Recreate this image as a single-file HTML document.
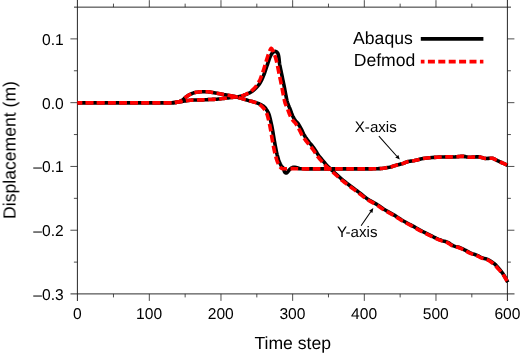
<!DOCTYPE html>
<html><head><meta charset="utf-8"><title>Displacement vs time step</title>
<style>
html,body{margin:0;padding:0;background:#fff;}
body{width:520px;height:358px;overflow:hidden;font-family:"Liberation Sans",sans-serif;}
svg{display:block;}
svg text{font-family:"Liberation Sans",sans-serif;fill:#000;will-change:transform;text-rendering:geometricPrecision;}
</style></head>
<body>
<svg width="520" height="358" viewBox="0 0 520 358">
<rect x="0" y="0" width="520" height="358" fill="#ffffff"/>
<g stroke="#1a1a1a" fill="none" stroke-linecap="butt">
<line x1="77.4" y1="0" x2="77.4" y2="301" stroke-width="0.95"/>
<line x1="507.4" y1="0" x2="507.4" y2="301" stroke-width="0.95"/>
<line x1="74" y1="7.15" x2="511" y2="7.15" stroke-width="0.95" stroke="#222"/>
<line x1="70.5" y1="293.9" x2="514.5" y2="293.9" stroke-width="0.95" stroke="#222"/>
</g>
<g stroke="#222" fill="none" stroke-linecap="butt" stroke-width="0.8">
<line x1="113.48" y1="293.9" x2="113.48" y2="297.4"/>
<line x1="113.48" y1="7.15" x2="113.48" y2="3.6500000000000004"/>
<line x1="149.32" y1="293.9" x2="149.32" y2="300.9"/>
<line x1="149.32" y1="7.15" x2="149.32" y2="0.15000000000000036"/>
<line x1="185.15" y1="293.9" x2="185.15" y2="297.4"/>
<line x1="185.15" y1="7.15" x2="185.15" y2="3.6500000000000004"/>
<line x1="220.98" y1="293.9" x2="220.98" y2="300.9"/>
<line x1="220.98" y1="7.15" x2="220.98" y2="0.15000000000000036"/>
<line x1="256.82" y1="293.9" x2="256.82" y2="297.4"/>
<line x1="256.82" y1="7.15" x2="256.82" y2="3.6500000000000004"/>
<line x1="292.65" y1="293.9" x2="292.65" y2="300.9"/>
<line x1="292.65" y1="7.15" x2="292.65" y2="0.15000000000000036"/>
<line x1="328.48" y1="293.9" x2="328.48" y2="297.4"/>
<line x1="328.48" y1="7.15" x2="328.48" y2="3.6500000000000004"/>
<line x1="364.32" y1="293.9" x2="364.32" y2="300.9"/>
<line x1="364.32" y1="7.15" x2="364.32" y2="0.15000000000000036"/>
<line x1="400.15" y1="293.9" x2="400.15" y2="297.4"/>
<line x1="400.15" y1="7.15" x2="400.15" y2="3.6500000000000004"/>
<line x1="435.98" y1="293.9" x2="435.98" y2="300.9"/>
<line x1="435.98" y1="7.15" x2="435.98" y2="0.15000000000000036"/>
<line x1="471.82" y1="293.9" x2="471.82" y2="297.4"/>
<line x1="471.82" y1="7.15" x2="471.82" y2="3.6500000000000004"/>
<line x1="77.4" y1="262.11" x2="73.9" y2="262.11"/>
<line x1="507.4" y1="262.11" x2="510.9" y2="262.11"/>
<line x1="77.4" y1="230.22" x2="70.4" y2="230.22"/>
<line x1="507.4" y1="230.22" x2="514.4" y2="230.22"/>
<line x1="77.4" y1="198.33" x2="73.9" y2="198.33"/>
<line x1="507.4" y1="198.33" x2="510.9" y2="198.33"/>
<line x1="77.4" y1="166.44" x2="70.4" y2="166.44"/>
<line x1="507.4" y1="166.44" x2="514.4" y2="166.44"/>
<line x1="77.4" y1="134.56" x2="73.9" y2="134.56"/>
<line x1="507.4" y1="134.56" x2="510.9" y2="134.56"/>
<line x1="77.4" y1="102.67" x2="70.4" y2="102.67"/>
<line x1="507.4" y1="102.67" x2="514.4" y2="102.67"/>
<line x1="77.4" y1="70.78" x2="73.9" y2="70.78"/>
<line x1="507.4" y1="70.78" x2="510.9" y2="70.78"/>
<line x1="77.4" y1="38.89" x2="70.4" y2="38.89"/>
<line x1="507.4" y1="38.89" x2="514.4" y2="38.89"/>
</g>
<g fill="none" stroke-linejoin="round" stroke-linecap="butt">
<path d="M77.50,102.70 L83.32,102.70 L91.56,102.70 L101.14,102.70 L110.98,102.70 L120.00,102.70 L128.64,102.70 L137.62,102.70 L146.28,102.70 L153.96,102.70 L160.00,102.70 L164.00,102.70 L166.39,102.71 L167.79,102.71 L168.79,102.71 L170.00,102.70 L171.36,102.68 L172.47,102.67 L173.42,102.64 L174.29,102.59 L175.20,102.50 L176.13,102.38 L177.02,102.24 L177.88,102.07 L178.71,101.86 L179.50,101.60 L180.25,101.28 L180.96,100.92 L181.65,100.52 L182.32,100.08 L183.00,99.60 L183.68,99.07 L184.36,98.47 L185.04,97.85 L185.72,97.25 L186.40,96.70 L187.08,96.21 L187.75,95.75 L188.44,95.31 L189.15,94.90 L189.90,94.50 L190.69,94.12 L191.52,93.75 L192.38,93.40 L193.27,93.08 L194.20,92.80 L195.18,92.56 L196.22,92.35 L197.28,92.17 L198.35,92.02 L199.40,91.90 L200.44,91.81 L201.48,91.75 L202.52,91.71 L203.56,91.70 L204.60,91.70 L205.61,91.71 L206.59,91.74 L207.58,91.79 L208.64,91.87 L209.80,92.00 L211.10,92.18 L212.51,92.41 L213.98,92.66 L215.46,92.93 L216.90,93.20 L218.29,93.47 L219.67,93.76 L221.04,94.05 L222.42,94.34 L223.80,94.60 L225.20,94.83 L226.60,95.04 L228.00,95.24 L229.40,95.45 L230.80,95.70 L232.19,95.98 L233.57,96.28 L234.94,96.60 L236.32,96.94 L237.70,97.30 L239.11,97.70 L240.54,98.13 L241.96,98.58 L243.33,99.01 L244.60,99.40 L245.77,99.75 L246.86,100.07 L247.89,100.36 L248.86,100.64 L249.80,100.90 L250.68,101.13 L251.51,101.33 L252.29,101.51 L253.05,101.70 L253.81,101.90 L254.56,102.12 L255.28,102.35 L255.99,102.58 L256.70,102.83 L257.40,103.10 L258.11,103.39 L258.82,103.69 L259.52,104.01 L260.22,104.35 L260.89,104.70 L261.57,105.06 L262.24,105.42 L262.89,105.81 L263.51,106.23 L264.10,106.70 L264.64,107.22 L265.13,107.79 L265.60,108.40 L266.05,109.04 L266.50,109.70 L266.95,110.37 L267.39,111.06 L267.82,111.79 L268.22,112.56 L268.60,113.40 L268.94,114.31 L269.25,115.29 L269.54,116.32 L269.82,117.39 L270.10,118.50 L270.39,119.64 L270.67,120.81 L270.94,122.02 L271.22,123.28 L271.50,124.60 L271.78,125.98 L272.06,127.41 L272.34,128.90 L272.62,130.43 L272.90,132.00 L273.17,133.59 L273.43,135.20 L273.69,136.87 L273.98,138.62 L274.30,140.50 L274.68,142.62 L275.12,144.96 L275.57,147.34 L276.01,149.58 L276.40,151.50 L276.74,153.04 L277.04,154.33 L277.33,155.45 L277.61,156.48 L277.90,157.50 L278.19,158.50 L278.48,159.43 L278.76,160.31 L279.07,161.16 L279.40,162.00 L279.77,162.86 L280.16,163.72 L280.58,164.55 L280.99,165.32 L281.40,166.00 L281.82,166.55 L282.25,167.00 L282.67,167.40 L283.06,167.81 L283.40,168.30 L283.66,168.91 L283.86,169.60 L284.03,170.31 L284.20,170.96 L284.40,171.50 L284.62,171.92 L284.86,172.27 L285.10,172.54 L285.34,172.75 L285.60,172.90 L285.87,172.99 L286.14,173.01 L286.42,172.97 L286.71,172.87 L287.00,172.70 L287.29,172.45 L287.58,172.10 L287.87,171.71 L288.18,171.30 L288.50,170.90 L288.82,170.51 L289.14,170.10 L289.48,169.68 L289.86,169.28 L290.30,168.90 L290.82,168.52 L291.42,168.14 L292.05,167.78 L292.69,167.49 L293.30,167.30 L293.88,167.23 L294.44,167.24 L295.01,167.33 L295.59,167.46 L296.20,167.60 L296.90,167.78 L297.67,168.03 L298.43,168.29 L299.10,168.53 L299.60,168.70 L299.56,168.78 L299.04,168.81 L298.57,168.81 L298.71,168.80 L300.00,168.80 L302.75,168.82 L306.59,168.84 L311.06,168.87 L315.69,168.89 L320.00,168.90 L324.00,168.91 L328.00,168.91 L332.00,168.90 L336.00,168.90 L340.00,168.90 L344.10,168.90 L348.31,168.90 L352.47,168.91 L356.42,168.91 L360.00,168.90 L363.23,168.89 L366.20,168.87 L368.92,168.85 L371.35,168.83 L373.50,168.80 L375.29,168.77 L376.72,168.74 L377.92,168.70 L378.97,168.65 L380.00,168.60 L380.92,168.55 L381.66,168.49 L382.35,168.43 L383.09,168.33 L384.00,168.20 L385.13,168.02 L386.39,167.81 L387.73,167.57 L389.09,167.30 L390.40,167.00 L391.66,166.66 L392.92,166.28 L394.18,165.88 L395.44,165.48 L396.70,165.10 L398.02,164.74 L399.38,164.40 L400.72,164.06 L401.98,163.72 L403.10,163.40 L404.04,163.07 L404.84,162.75 L405.56,162.43 L406.23,162.15 L406.90,161.90 L407.55,161.71 L408.16,161.55 L408.74,161.43 L409.35,161.31 L410.00,161.20 L410.71,161.10 L411.45,161.01 L412.22,160.93 L413.00,160.83 L413.80,160.70 L414.60,160.54 L415.41,160.35 L416.24,160.14 L417.10,159.92 L418.00,159.70 L418.86,159.47 L419.67,159.23 L420.56,158.98 L421.66,158.74 L423.10,158.50 L424.99,158.26 L427.23,158.02 L429.69,157.79 L432.19,157.58 L434.60,157.40 L436.95,157.25 L439.35,157.13 L441.73,157.04 L444.03,156.96 L446.20,156.90 L448.23,156.88 L450.16,156.89 L452.00,156.92 L453.75,156.93 L455.40,156.90 L456.93,156.79 L458.33,156.63 L459.65,156.46 L460.96,156.33 L462.30,156.30 L463.64,156.40 L464.94,156.61 L466.27,156.85 L467.67,157.07 L469.20,157.20 L470.94,157.19 L472.86,157.08 L474.84,156.95 L476.76,156.86 L478.50,156.90 L480.03,157.11 L481.43,157.45 L482.76,157.83 L484.06,158.17 L485.40,158.40 L486.82,158.45 L488.27,158.37 L489.71,158.26 L491.07,158.20 L492.30,158.30 L493.37,158.58 L494.31,158.98 L495.17,159.45 L496.02,159.94 L496.90,160.40 L497.80,160.81 L498.67,161.21 L499.55,161.61 L500.48,162.04 L501.50,162.50 L502.72,163.06 L504.12,163.70 L505.53,164.35 L506.75,164.91 L507.60,165.30" stroke="#000" stroke-width="3.6"/>
<path d="M77.50,102.70 L83.32,102.70 L91.56,102.70 L101.14,102.70 L110.98,102.70 L120.00,102.70 L128.61,102.70 L137.52,102.70 L146.14,102.70 L153.83,102.70 L160.00,102.70 L164.26,102.71 L167.03,102.74 L168.87,102.76 L170.34,102.76 L172.00,102.70 L173.81,102.58 L175.39,102.40 L176.82,102.20 L178.16,101.99 L179.50,101.80 L180.82,101.62 L182.08,101.43 L183.29,101.25 L184.46,101.07 L185.60,100.90 L186.70,100.74 L187.74,100.58 L188.76,100.43 L189.77,100.30 L190.80,100.20 L191.79,100.13 L192.72,100.08 L193.68,100.06 L194.74,100.03 L196.00,100.00 L197.55,99.96 L199.35,99.92 L201.23,99.89 L203.03,99.85 L204.60,99.80 L205.86,99.75 L206.92,99.69 L207.89,99.62 L208.88,99.56 L210.00,99.50 L211.28,99.45 L212.65,99.40 L214.07,99.36 L215.50,99.29 L216.90,99.20 L218.28,99.07 L219.66,98.92 L221.03,98.75 L222.41,98.57 L223.80,98.40 L225.20,98.22 L226.60,98.04 L228.00,97.86 L229.40,97.68 L230.80,97.50 L232.21,97.34 L233.63,97.20 L235.04,97.05 L236.41,96.89 L237.70,96.70 L238.90,96.48 L240.04,96.24 L241.13,95.98 L242.18,95.70 L243.21,95.40 L244.22,95.08 L245.21,94.73 L246.16,94.37 L247.08,93.99 L247.97,93.60 L248.80,93.22 L249.58,92.83 L250.33,92.43 L251.08,92.00 L251.84,91.50 L252.63,90.94 L253.42,90.32 L254.21,89.67 L254.98,88.99 L255.71,88.30 L256.41,87.60 L257.07,86.89 L257.71,86.15 L258.32,85.39 L258.92,84.60 L259.49,83.79 L260.02,82.95 L260.54,82.09 L261.05,81.17 L261.55,80.20 L262.06,79.15 L262.55,78.03 L263.04,76.86 L263.52,75.68 L263.98,74.50 L264.42,73.32 L264.85,72.12 L265.26,70.91 L265.67,69.70 L266.08,68.50 L266.50,67.28 L266.91,66.05 L267.32,64.83 L267.72,63.64 L268.10,62.50 L268.46,61.41 L268.80,60.36 L269.13,59.34 L269.46,58.39 L269.80,57.50 L270.15,56.68 L270.51,55.92 L270.88,55.22 L271.24,54.58 L271.60,54.00 L271.96,53.48 L272.32,53.02 L272.67,52.63 L273.03,52.29 L273.40,52.00 L273.78,51.77 L274.17,51.59 L274.56,51.47 L274.94,51.41 L275.30,51.40 L275.65,51.45 L275.98,51.57 L276.30,51.74 L276.61,51.95 L276.90,52.20 L277.17,52.48 L277.43,52.79 L277.68,53.15 L277.90,53.55 L278.10,54.00 L278.28,54.52 L278.43,55.09 L278.57,55.71 L278.69,56.35 L278.80,57.00 L278.90,57.66 L278.98,58.34 L279.05,59.04 L279.12,59.76 L279.20,60.50 L279.28,61.21 L279.34,61.88 L279.42,62.60 L279.53,63.45 L279.70,64.50 L279.95,65.82 L280.26,67.35 L280.61,69.00 L280.96,70.69 L281.30,72.30 L281.62,73.86 L281.95,75.43 L282.27,76.98 L282.59,78.51 L282.90,80.00 L283.19,81.42 L283.47,82.77 L283.74,84.11 L284.02,85.47 L284.30,86.90 L284.59,88.42 L284.89,90.00 L285.19,91.61 L285.49,93.22 L285.80,94.80 L286.11,96.40 L286.43,98.03 L286.76,99.63 L287.08,101.11 L287.40,102.40 L287.72,103.46 L288.05,104.34 L288.38,105.10 L288.70,105.80 L289.00,106.50 L289.27,107.16 L289.53,107.75 L289.77,108.31 L290.03,108.91 L290.30,109.60 L290.60,110.40 L290.91,111.29 L291.23,112.21 L291.56,113.13 L291.90,114.00 L292.24,114.83 L292.58,115.64 L292.93,116.43 L293.30,117.19 L293.67,117.90 L294.06,118.56 L294.45,119.18 L294.86,119.76 L295.28,120.33 L295.72,120.90 L296.15,121.41 L296.59,121.87 L297.04,122.33 L297.53,122.89 L298.06,123.60 L298.64,124.50 L299.28,125.54 L299.94,126.68 L300.61,127.88 L301.27,129.10 L301.92,130.38 L302.57,131.75 L303.22,133.14 L303.89,134.51 L304.59,135.80 L305.34,137.01 L306.12,138.17 L306.92,139.29 L307.71,140.37 L308.49,141.40 L309.25,142.37 L310.01,143.28 L310.75,144.15 L311.48,145.02 L312.19,145.90 L312.88,146.79 L313.54,147.67 L314.20,148.56 L314.84,149.46 L315.48,150.40 L316.11,151.38 L316.71,152.38 L317.32,153.41 L317.97,154.45 L318.68,155.50 L319.48,156.57 L320.34,157.65 L321.24,158.75 L322.15,159.83 L323.04,160.90 L323.91,161.96 L324.78,163.01 L325.65,164.05 L326.52,165.05 L327.39,166.00 L328.24,166.87 L329.08,167.67 L329.93,168.45 L330.81,169.24 L331.75,170.10 L332.76,171.03 L333.84,171.99 L334.95,172.99 L336.07,173.99 L337.20,175.00 L338.29,176.00 L339.38,177.00 L340.48,178.01 L341.64,179.04 L342.87,180.10 L344.18,181.17 L345.54,182.25 L346.97,183.36 L348.46,184.50 L350.04,185.70 L351.71,186.97 L353.50,188.30 L355.33,189.66 L357.18,191.04 L358.99,192.40 L360.77,193.78 L362.54,195.19 L364.31,196.59 L366.08,197.94 L367.85,199.20 L369.64,200.33 L371.43,201.36 L373.23,202.35 L375.02,203.34 L376.81,204.40 L378.59,205.55 L380.36,206.75 L382.12,207.96 L383.89,209.16 L385.67,210.30 L387.46,211.36 L389.25,212.37 L391.05,213.36 L392.84,214.36 L394.63,215.40 L396.41,216.50 L398.18,217.64 L399.95,218.79 L401.72,219.92 L403.50,221.00 L405.29,222.02 L407.10,223.01 L408.90,223.97 L410.70,224.92 L412.50,225.90 L414.36,226.94 L416.28,228.03 L418.16,229.10 L419.90,230.08 L421.40,230.90 L422.57,231.51 L423.49,231.97 L424.28,232.33 L425.04,232.69 L425.90,233.10 L426.86,233.58 L427.84,234.06 L428.83,234.56 L429.85,235.08 L430.90,235.60 L431.98,236.15 L433.10,236.73 L434.23,237.31 L435.37,237.87 L436.50,238.40 L437.62,238.89 L438.74,239.35 L439.86,239.78 L440.98,240.20 L442.10,240.60 L443.22,240.94 L444.34,241.23 L445.47,241.52 L446.59,241.86 L447.70,242.30 L448.80,242.90 L449.90,243.62 L451.00,244.39 L452.10,245.11 L453.20,245.70 L454.31,246.12 L455.43,246.43 L456.56,246.68 L457.68,246.95 L458.80,247.30 L459.91,247.73 L461.00,248.19 L462.10,248.69 L463.22,249.23 L464.40,249.80 L465.66,250.45 L466.98,251.17 L468.32,251.90 L469.64,252.60 L470.90,253.20 L472.08,253.66 L473.20,254.03 L474.30,254.35 L475.39,254.69 L476.50,255.10 L477.62,255.60 L478.74,256.17 L479.86,256.75 L480.98,257.31 L482.10,257.80 L483.22,258.18 L484.34,258.47 L485.47,258.75 L486.59,259.07 L487.70,259.50 L488.85,260.09 L490.03,260.78 L491.19,261.52 L492.27,262.25 L493.20,262.90 L493.95,263.45 L494.56,263.94 L495.08,264.40 L495.57,264.88 L496.10,265.40 L496.65,265.98 L497.20,266.59 L497.73,267.22 L498.27,267.86 L498.80,268.50 L499.34,269.13 L499.87,269.76 L500.41,270.39 L500.93,271.04 L501.45,271.70 L501.94,272.35 L502.41,272.98 L502.89,273.63 L503.38,274.36 L503.90,275.20 L504.52,276.25 L505.21,277.49 L505.90,278.76 L506.52,279.92 L507.00,280.80 L507.31,281.37 L507.50,281.73 L507.60,281.94 L507.67,282.08 L507.73,282.20" stroke="#000" stroke-width="3.6"/>
<path d="M77.50,102.70 L83.32,102.70 L91.56,102.70 L101.14,102.70 L110.98,102.70 L120.00,102.70 L128.64,102.70 L137.62,102.70 L146.28,102.70 L153.96,102.70 L160.00,102.70 L164.00,102.70 L166.39,102.71 L167.79,102.71 L168.79,102.71 L170.00,102.70 L171.36,102.68 L172.47,102.67 L173.42,102.64 L174.29,102.59 L175.20,102.50 L176.13,102.38 L177.02,102.24 L177.88,102.07 L178.71,101.86 L179.50,101.60 L180.25,101.28 L180.96,100.92 L181.65,100.52 L182.32,100.08 L183.00,99.60 L183.68,99.07 L184.36,98.47 L185.04,97.85 L185.72,97.25 L186.40,96.70 L187.08,96.21 L187.75,95.75 L188.44,95.31 L189.15,94.90 L189.90,94.50 L190.69,94.12 L191.52,93.75 L192.38,93.40 L193.27,93.08 L194.20,92.80 L195.18,92.56 L196.22,92.35 L197.28,92.17 L198.35,92.02 L199.40,91.90 L200.44,91.81 L201.48,91.75 L202.52,91.71 L203.56,91.70 L204.60,91.70 L205.61,91.71 L206.59,91.74 L207.58,91.79 L208.64,91.87 L209.80,92.00 L211.10,92.18 L212.51,92.41 L213.98,92.66 L215.46,92.93 L216.90,93.20 L218.29,93.47 L219.67,93.76 L221.04,94.05 L222.42,94.34 L223.80,94.60 L225.20,94.83 L226.60,95.04 L228.00,95.24 L229.40,95.45 L230.80,95.70 L232.19,95.98 L233.57,96.28 L234.94,96.60 L236.32,96.94 L237.70,97.30 L239.11,97.70 L240.54,98.13 L241.96,98.58 L243.33,99.01 L244.60,99.40 L245.77,99.75 L246.87,100.07 L247.91,100.36 L248.88,100.64 L249.80,100.90 L250.64,101.13 L251.41,101.33 L252.12,101.51 L252.81,101.70 L253.50,101.90 L254.19,102.12 L254.86,102.35 L255.52,102.58 L256.17,102.83 L256.80,103.10 L257.43,103.39 L258.05,103.69 L258.66,104.01 L259.24,104.35 L259.80,104.70 L260.32,105.06 L260.80,105.42 L261.27,105.81 L261.73,106.23 L262.20,106.70 L262.68,107.22 L263.17,107.79 L263.66,108.40 L264.14,109.04 L264.60,109.70 L265.05,110.37 L265.49,111.06 L265.92,111.79 L266.32,112.56 L266.70,113.40 L267.04,114.31 L267.35,115.29 L267.64,116.32 L267.92,117.39 L268.20,118.50 L268.49,119.64 L268.77,120.81 L269.04,122.02 L269.32,123.28 L269.60,124.60 L269.88,125.98 L270.16,127.41 L270.44,128.90 L270.72,130.43 L271.00,132.00 L271.27,133.59 L271.53,135.20 L271.79,136.87 L272.08,138.62 L272.40,140.50 L272.78,142.62 L273.22,144.96 L273.67,147.34 L274.11,149.58 L274.50,151.50 L274.84,153.04 L275.14,154.33 L275.43,155.45 L275.71,156.48 L276.00,157.50 L276.29,158.50 L276.58,159.43 L276.86,160.31 L277.17,161.16 L277.50,162.00 L277.87,162.86 L278.26,163.72 L278.68,164.55 L279.09,165.32 L279.50,166.00 L279.89,166.60 L280.28,167.13 L280.66,167.59 L281.07,167.98 L281.50,168.30 L281.91,168.53 L282.30,168.66 L282.72,168.74 L283.27,168.77 L284.00,168.80 L284.91,168.80 L285.96,168.75 L287.14,168.68 L288.49,168.63 L290.00,168.60 L291.58,168.62 L293.23,168.66 L295.09,168.71 L297.30,168.76 L300.00,168.80 L303.36,168.83 L307.28,168.85 L311.52,168.87 L315.84,168.89 L320.00,168.90 L324.00,168.91 L328.00,168.91 L332.00,168.90 L336.00,168.90 L340.00,168.90 L344.10,168.90 L348.31,168.90 L352.47,168.91 L356.42,168.91 L360.00,168.90 L363.23,168.89 L366.20,168.87 L368.92,168.85 L371.35,168.83 L373.50,168.80 L375.29,168.77 L376.72,168.74 L377.92,168.70 L378.97,168.65 L380.00,168.60 L380.92,168.55 L381.66,168.49 L382.35,168.43 L383.09,168.33 L384.00,168.20 L385.13,168.02 L386.39,167.81 L387.73,167.57 L389.09,167.30 L390.40,167.00 L391.66,166.66 L392.92,166.28 L394.18,165.88 L395.44,165.48 L396.70,165.10 L398.02,164.74 L399.38,164.40 L400.72,164.06 L401.98,163.72 L403.10,163.40 L404.04,163.07 L404.84,162.75 L405.56,162.43 L406.23,162.15 L406.90,161.90 L407.55,161.71 L408.16,161.55 L408.74,161.43 L409.35,161.31 L410.00,161.20 L410.71,161.10 L411.45,161.01 L412.22,160.93 L413.00,160.83 L413.80,160.70 L414.60,160.54 L415.41,160.35 L416.24,160.14 L417.10,159.92 L418.00,159.70 L418.86,159.47 L419.67,159.23 L420.56,158.98 L421.66,158.74 L423.10,158.50 L424.99,158.26 L427.23,158.02 L429.69,157.79 L432.19,157.58 L434.60,157.40 L436.95,157.25 L439.35,157.13 L441.73,157.04 L444.03,156.96 L446.20,156.90 L448.23,156.88 L450.16,156.89 L452.00,156.92 L453.75,156.93 L455.40,156.90 L456.93,156.79 L458.33,156.63 L459.65,156.46 L460.96,156.33 L462.30,156.30 L463.64,156.40 L464.94,156.61 L466.27,156.85 L467.67,157.07 L469.20,157.20 L470.94,157.19 L472.86,157.08 L474.84,156.95 L476.76,156.86 L478.50,156.90 L480.03,157.11 L481.43,157.45 L482.76,157.83 L484.06,158.17 L485.40,158.40 L486.82,158.45 L488.27,158.37 L489.71,158.26 L491.07,158.20 L492.30,158.30 L493.37,158.58 L494.31,158.98 L495.17,159.45 L496.02,159.94 L496.90,160.40 L497.80,160.81 L498.67,161.21 L499.55,161.61 L500.48,162.04 L501.50,162.50 L502.72,163.06 L504.12,163.70 L505.53,164.35 L506.75,164.91 L507.60,165.30" stroke="#ff0000" stroke-width="3.6" stroke-dasharray="7.7 3.45" stroke-dashoffset="3.0"/>
<path d="M77.50,102.70 L83.32,102.70 L91.56,102.70 L101.14,102.70 L110.98,102.70 L120.00,102.70 L128.61,102.70 L137.52,102.70 L146.14,102.70 L153.83,102.70 L160.00,102.70 L164.26,102.71 L167.03,102.74 L168.87,102.76 L170.34,102.76 L172.00,102.70 L173.81,102.58 L175.39,102.40 L176.82,102.20 L178.16,101.99 L179.50,101.80 L180.82,101.62 L182.08,101.43 L183.29,101.25 L184.46,101.07 L185.60,100.90 L186.70,100.74 L187.74,100.58 L188.76,100.43 L189.77,100.30 L190.80,100.20 L191.79,100.13 L192.72,100.08 L193.68,100.06 L194.74,100.03 L196.00,100.00 L197.55,99.96 L199.35,99.92 L201.23,99.89 L203.03,99.85 L204.60,99.80 L205.86,99.75 L206.92,99.69 L207.89,99.62 L208.88,99.56 L210.00,99.50 L211.28,99.45 L212.65,99.40 L214.07,99.36 L215.50,99.29 L216.90,99.20 L218.28,99.07 L219.66,98.92 L221.03,98.75 L222.41,98.57 L223.80,98.40 L225.20,98.22 L226.60,98.04 L228.00,97.86 L229.40,97.68 L230.80,97.50 L232.21,97.34 L233.65,97.20 L235.07,97.05 L236.43,96.89 L237.70,96.70 L238.86,96.48 L239.95,96.24 L240.97,95.98 L241.94,95.70 L242.90,95.40 L243.83,95.08 L244.72,94.73 L245.58,94.37 L246.41,93.99 L247.20,93.60 L247.95,93.22 L248.66,92.83 L249.34,92.43 L250.01,92.00 L250.70,91.50 L251.41,90.94 L252.12,90.32 L252.84,89.67 L253.53,88.99 L254.20,88.30 L254.84,87.60 L255.46,86.89 L256.06,86.15 L256.64,85.39 L257.20,84.60 L257.74,83.79 L258.25,82.95 L258.74,82.09 L259.22,81.17 L259.70,80.20 L260.18,79.15 L260.65,78.03 L261.11,76.86 L261.56,75.68 L262.00,74.50 L262.42,73.32 L262.83,72.12 L263.23,70.91 L263.62,69.70 L264.00,68.50 L264.38,67.29 L264.74,66.06 L265.10,64.84 L265.46,63.65 L265.80,62.50 L266.13,61.40 L266.45,60.34 L266.77,59.31 L267.08,58.30 L267.40,57.30 L267.72,56.30 L268.05,55.30 L268.38,54.33 L268.70,53.42 L269.00,52.60 L269.29,51.86 L269.56,51.20 L269.82,50.60 L270.07,50.06 L270.30,49.60 L270.50,49.19 L270.68,48.83 L270.84,48.55 L271.01,48.37 L271.20,48.30 L271.40,48.37 L271.61,48.55 L271.82,48.83 L272.05,49.19 L272.30,49.60 L272.57,50.05 L272.85,50.55 L273.15,51.12 L273.47,51.80 L273.80,52.60 L274.16,53.56 L274.55,54.66 L274.95,55.85 L275.34,57.08 L275.70,58.30 L276.02,59.48 L276.32,60.67 L276.61,61.88 L276.90,63.15 L277.20,64.50 L277.51,65.96 L277.83,67.51 L278.16,69.11 L278.48,70.72 L278.80,72.30 L279.12,73.86 L279.45,75.43 L279.77,76.98 L280.09,78.51 L280.40,80.00 L280.69,81.42 L280.97,82.77 L281.24,84.11 L281.52,85.47 L281.80,86.90 L282.09,88.42 L282.39,90.00 L282.69,91.61 L282.99,93.22 L283.30,94.80 L283.61,96.40 L283.93,98.03 L284.26,99.63 L284.58,101.11 L284.90,102.40 L285.22,103.46 L285.55,104.34 L285.88,105.10 L286.20,105.80 L286.50,106.50 L286.77,107.16 L287.03,107.75 L287.27,108.31 L287.53,108.91 L287.80,109.60 L288.10,110.40 L288.41,111.29 L288.73,112.21 L289.06,113.13 L289.40,114.00 L289.74,114.83 L290.09,115.64 L290.45,116.43 L290.82,117.19 L291.20,117.90 L291.60,118.56 L292.00,119.18 L292.42,119.76 L292.86,120.33 L293.30,120.90 L293.75,121.41 L294.20,121.87 L294.66,122.33 L295.16,122.89 L295.70,123.60 L296.30,124.50 L296.95,125.54 L297.63,126.68 L298.32,127.88 L299.00,129.10 L299.66,130.38 L300.32,131.75 L300.99,133.14 L301.68,134.51 L302.40,135.80 L303.16,137.01 L303.97,138.17 L304.79,139.29 L305.60,140.37 L306.40,141.40 L307.18,142.37 L307.95,143.28 L308.72,144.15 L309.47,145.02 L310.20,145.90 L310.91,146.79 L311.59,147.67 L312.27,148.56 L312.93,149.46 L313.60,150.40 L314.25,151.38 L314.87,152.38 L315.50,153.41 L316.16,154.45 L316.90,155.50 L317.72,156.57 L318.61,157.65 L319.54,158.75 L320.48,159.83 L321.40,160.90 L322.30,161.96 L323.20,163.01 L324.10,164.05 L325.00,165.05 L325.90,166.00 L326.78,166.87 L327.65,167.67 L328.52,168.45 L329.43,169.24 L330.40,170.10 L331.45,171.03 L332.56,171.99 L333.70,172.99 L334.86,173.99 L336.00,175.00 L337.11,176.00 L338.20,177.00 L339.31,178.01 L340.46,179.04 L341.70,180.10 L343.02,181.17 L344.39,182.25 L345.82,183.36 L347.32,184.50 L348.90,185.70 L350.59,186.97 L352.38,188.30 L354.22,189.66 L356.08,191.04 L357.90,192.40 L359.68,193.78 L361.46,195.19 L363.24,196.59 L365.02,197.94 L366.80,199.20 L368.60,200.33 L370.40,201.36 L372.20,202.35 L374.00,203.34 L375.80,204.40 L377.58,205.55 L379.36,206.75 L381.14,207.96 L382.92,209.16 L384.70,210.30 L386.50,211.36 L388.30,212.37 L390.10,213.36 L391.90,214.36 L393.70,215.40 L395.48,216.50 L397.26,217.64 L399.04,218.79 L400.82,219.92 L402.60,221.00 L404.40,222.02 L406.20,223.01 L408.00,223.97 L409.80,224.92 L411.60,225.90 L413.46,226.94 L415.38,228.03 L417.26,229.10 L419.00,230.08 L420.50,230.90 L421.67,231.51 L422.59,231.97 L423.38,232.33 L424.14,232.69 L425.00,233.10 L425.96,233.58 L426.94,234.06 L427.93,234.56 L428.95,235.08 L430.00,235.60 L431.08,236.15 L432.20,236.73 L433.33,237.31 L434.47,237.87 L435.60,238.40 L436.72,238.89 L437.84,239.35 L438.96,239.78 L440.08,240.20 L441.20,240.60 L442.32,240.94 L443.44,241.23 L444.57,241.52 L445.69,241.86 L446.80,242.30 L447.90,242.90 L449.00,243.62 L450.10,244.39 L451.20,245.11 L452.30,245.70 L453.41,246.12 L454.53,246.43 L455.66,246.68 L456.78,246.95 L457.90,247.30 L459.01,247.73 L460.10,248.19 L461.20,248.69 L462.32,249.23 L463.50,249.80 L464.76,250.45 L466.08,251.17 L467.42,251.90 L468.74,252.60 L470.00,253.20 L471.18,253.66 L472.30,254.03 L473.40,254.35 L474.49,254.69 L475.60,255.10 L476.72,255.60 L477.84,256.17 L478.96,256.75 L480.08,257.31 L481.20,257.80 L482.32,258.18 L483.44,258.47 L484.57,258.75 L485.69,259.07 L486.80,259.50 L487.95,260.09 L489.13,260.78 L490.29,261.52 L491.37,262.25 L492.30,262.90 L493.05,263.45 L493.66,263.94 L494.18,264.40 L494.67,264.88 L495.20,265.40 L495.75,265.98 L496.28,266.59 L496.82,267.22 L497.35,267.86 L497.90,268.50 L498.47,269.13 L499.06,269.76 L499.64,270.39 L500.23,271.04 L500.80,271.70 L501.34,272.35 L501.86,272.98 L502.38,273.63 L502.92,274.36 L503.50,275.20 L504.18,276.25 L504.93,277.49 L505.69,278.76 L506.38,279.92 L506.90,280.80 L507.24,281.37 L507.45,281.73 L507.56,281.94 L507.63,282.08 L507.70,282.20" stroke="#ff0000" stroke-width="3.6" stroke-dasharray="7.7 3.45" stroke-dashoffset="3.0"/>
</g>
<g font-size="15.6px">
<text transform="translate(77.40,319.4)" text-anchor="middle">0</text>
<text transform="translate(149.07,319.4)" text-anchor="middle">100</text>
<text transform="translate(220.73,319.4)" text-anchor="middle">200</text>
<text transform="translate(292.40,319.4)" text-anchor="middle">300</text>
<text transform="translate(364.07,319.4)" text-anchor="middle">400</text>
<text transform="translate(435.73,319.4)" text-anchor="middle">500</text>
<text transform="translate(507.40,319.4)" text-anchor="middle">600</text>
<text transform="translate(63.7,44.79)" text-anchor="end">0.1</text>
<text transform="translate(63.7,108.57)" text-anchor="end">0.0</text>
<text transform="translate(63.7,172.34)" text-anchor="end">–0.1</text>
<text transform="translate(63.7,236.12)" text-anchor="end">–0.2</text>
<text transform="translate(63.7,299.90)" text-anchor="end">–0.3</text>
</g>
<g font-size="17.6px">
<text x="292.7" y="349.3" text-anchor="middle">Time step</text>
<text transform="translate(15.5,150) rotate(-90)" text-anchor="middle">Displacement (m)</text>
</g>
<g font-size="17.6px">
<text x="353.1" y="43.9">Abaqus</text>
<text x="353.7" y="66.3">Defmod</text>
</g>
<line x1="420.8" y1="38.9" x2="483.4" y2="38.9" stroke="#000" stroke-width="3.7"/>
<line x1="420.8" y1="61.6" x2="483.4" y2="61.6" stroke="#ff0000" stroke-width="3.7" stroke-dasharray="7 3.4" stroke-dashoffset="3.3"/>
<g font-size="15.1px">
<text x="354.8" y="132.3">X-axis</text>
<text x="336.9" y="236.8">Y-axis</text>
</g>
<line x1="378.90" y1="136.10" x2="396.81" y2="156.24" stroke="#000" stroke-width="1.05"/>
<polygon points="399.80,159.60 395.28,157.60 398.34,154.88" fill="#000"/>
<line x1="361.10" y1="225.70" x2="370.74" y2="211.80" stroke="#000" stroke-width="1.05"/>
<polygon points="373.30,208.10 372.42,212.97 369.05,210.63" fill="#000"/>
</svg>
</body></html>
